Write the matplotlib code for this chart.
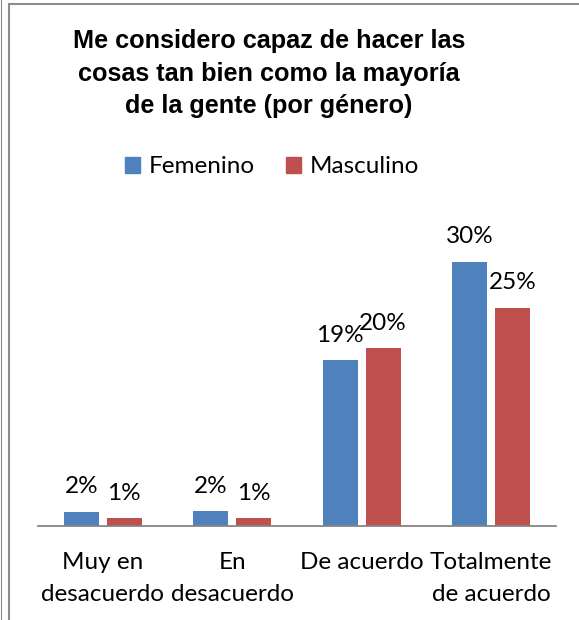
import numpy as np
import matplotlib
matplotlib.use('Agg')
import matplotlib.pyplot as plt
from matplotlib.lines import Line2D
from matplotlib.patches import Patch

# Data.
categories = ['Muy en\ndesacuerdo', 'En\ndesacuerdo', 'De acuerdo', 'Totalmente\nde acuerdo']
femenino = [1.6, 1.7, 18.8, 30.0]
masculino = [0.9, 0.9, 20.2, 24.8]
series = ['Femenino', 'Masculino']
colors = ['#4F81BD', '#C0504D']
title = 'Me considero capaz de hacer las\ncosas tan bien como la mayoría\nde la gente (por género)'

labelFont = 'Lato'
fs = 17.5

fig = plt.figure(figsize=(5.79, 6.2), dpi=100)
ax = fig.add_axes([38/579, 1-526/620, (556-38)/579, (526-230)/620])

x = np.arange(len(categories))
w = 0.27
off = 0.166
for vals, dx, col in zip([femenino, masculino], [-off, off], colors):
    bars = ax.bar(x+dx, vals, width=w, color=col)
    for b, v in zip(bars, vals):
        ax.annotate('{:.0f}%'.format(v), (b.get_x()+b.get_width()/2, b.get_height()),
                    xytext=(0, 18), textcoords='offset points', ha='center', va='center',
                    fontsize=fs, family=labelFont)

ax.set_xlim(-0.5, 3.5)
ax.set_ylim(0, 33.6)
for s in ['top', 'right', 'left']:
    ax.spines[s].set_visible(False)
ax.spines['bottom'].set_color('#868686')
ax.spines['bottom'].set_linewidth(1.3)
ax.set_yticks([])
ax.set_xticks(x)
ax.set_xticklabels(categories, fontsize=fs, family=labelFont, linespacing=1.6)
ax.tick_params(axis='x', length=0, pad=19)

fig.text(269/579, 1-29/620, title, ha='center', va='top', fontsize=18.2, fontweight='bold',
         family='Liberation Sans', linespacing=1.45)

handles = [Patch(color=c) for c in colors]
fig.legend(handles, series, loc='center', bbox_to_anchor=(272/579, 1-167/620), ncol=2,
           frameon=False, prop={'family': labelFont, 'size': fs}, handlelength=0.6,
           handleheight=0.6, handletextpad=0.35, columnspacing=1.3)

# Frame lines from the reference picture.
fig.add_artist(Line2D([0.8/579, 0.8/579], [0, 1], color='#8c8c8c', lw=0.8, transform=fig.transFigure))
fig.add_artist(Line2D([9/579, 9/579], [0, 1-4/620], color='#8c8c8c', lw=1.5, transform=fig.transFigure))
fig.add_artist(Line2D([9/579, 1], [1-4/620, 1-4/620], color='#8c8c8c', lw=1.5, transform=fig.transFigure))

fig.savefig('out.png', dpi=100)
